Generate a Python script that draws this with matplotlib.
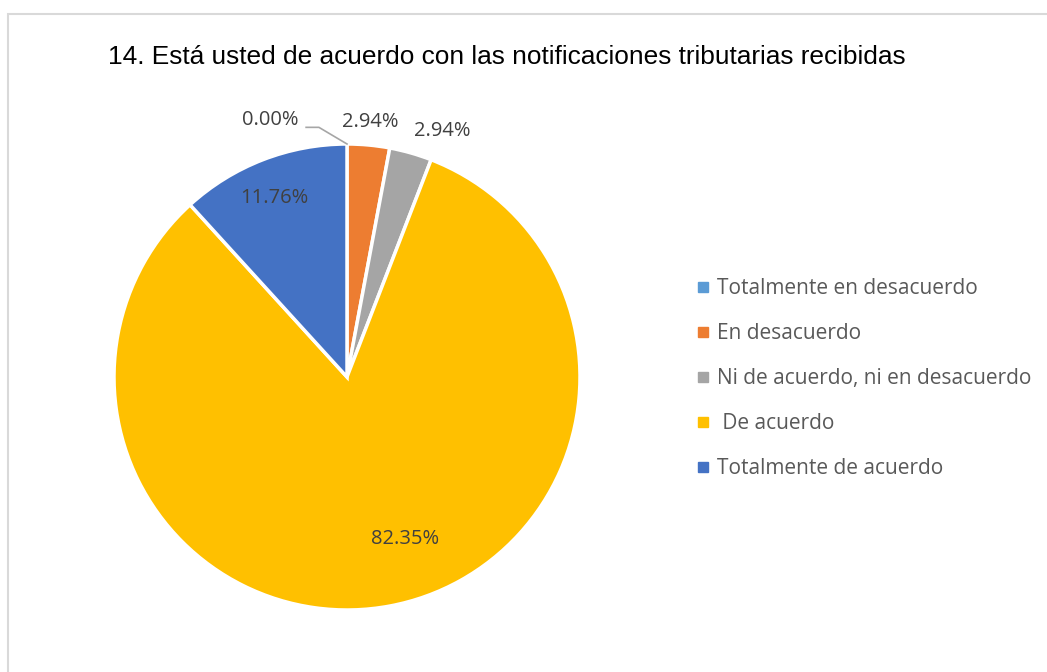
import numpy as np
import matplotlib.pyplot as plt
from matplotlib.lines import Line2D
from matplotlib.patches import Rectangle

title = '14. Está usted de acuerdo con las notificaciones tributarias recibidas'
categories = ['Totalmente en desacuerdo', 'En desacuerdo',
              'Ni de acuerdo, ni en desacuerdo', ' De acuerdo',
              'Totalmente de acuerdo']
values = [0.00, 2.94, 2.94, 82.35, 11.76]
colors = ['#5B9BD5', '#ED7D31', '#A5A5A5', '#FFC000', '#4472C4']

# label placement: radius (in pie radii) and angle nudge in degrees
lab_r = [1.15, 1.10, 1.13, 0.74, 0.83]
lab_da = [16.7, 0, -5.3, 9, 1]

plt.rcParams['font.family'] = ['Open Sans', 'DejaVu Sans']

fig = plt.figure(figsize=(10.47, 6.72), dpi=100)
W, H = 1047, 672

# chart border (left and top visible)
fig.patches.append(Rectangle((8 / W, -0.1), 1.2, 1.1 - 14 / H,
                             transform=fig.transFigure, fill=False,
                             edgecolor='#D9D9D9', lw=1.5))

cx, cy, r = 347, 377, 233
ax = fig.add_axes([(cx - r) / W, (H - cy - r) / H, 2 * r / W, 2 * r / H])
wedges, _ = ax.pie(values, colors=colors, startangle=90, counterclock=False,
                   wedgeprops=dict(edgecolor='white', linewidth=2.5))
ax.set_xlim(-1, 1)
ax.set_ylim(-1, 1)
ax.set_aspect('equal')
ax.axis('off')

for i, w in enumerate(wedges):
    mid = np.deg2rad((w.theta1 + w.theta2) / 2 + lab_da[i])
    x, y = lab_r[i] * np.cos(mid), lab_r[i] * np.sin(mid)
    ax.text(x, y, f'{values[i]:.2f}%', ha='center', va='center',
            fontsize=14.5, color='#404040', clip_on=False)
    if values[i] == 0:
        # leader line for the empty slice
        tip = np.deg2rad(w.theta1)
        ax.plot([x + 0.155, x + 0.21, np.cos(tip)],
                [y - 0.03, y - 0.03, np.sin(tip)],
                color='#A6A6A6', lw=1.2, clip_on=False)

fig.text(108 / W, 1 - 57 / H, title, fontsize=18.9, ha='left', va='center',
         color='#000000', family=['Liberation Sans', 'DejaVu Sans'])

handles = [Line2D([], [], marker='s', ls='none', markersize=7,
                  markerfacecolor=c, markeredgecolor=c) for c in colors]
fig.legend(handles, categories, loc='upper left',
           bbox_to_anchor=(687 / W, 1 - 268 / H), frameon=False,
           fontsize=15, labelcolor='#595959', handlelength=0.5,
           handletextpad=0.45, labelspacing=1.15, borderpad=0)

fig.savefig('out.png', dpi=100)
